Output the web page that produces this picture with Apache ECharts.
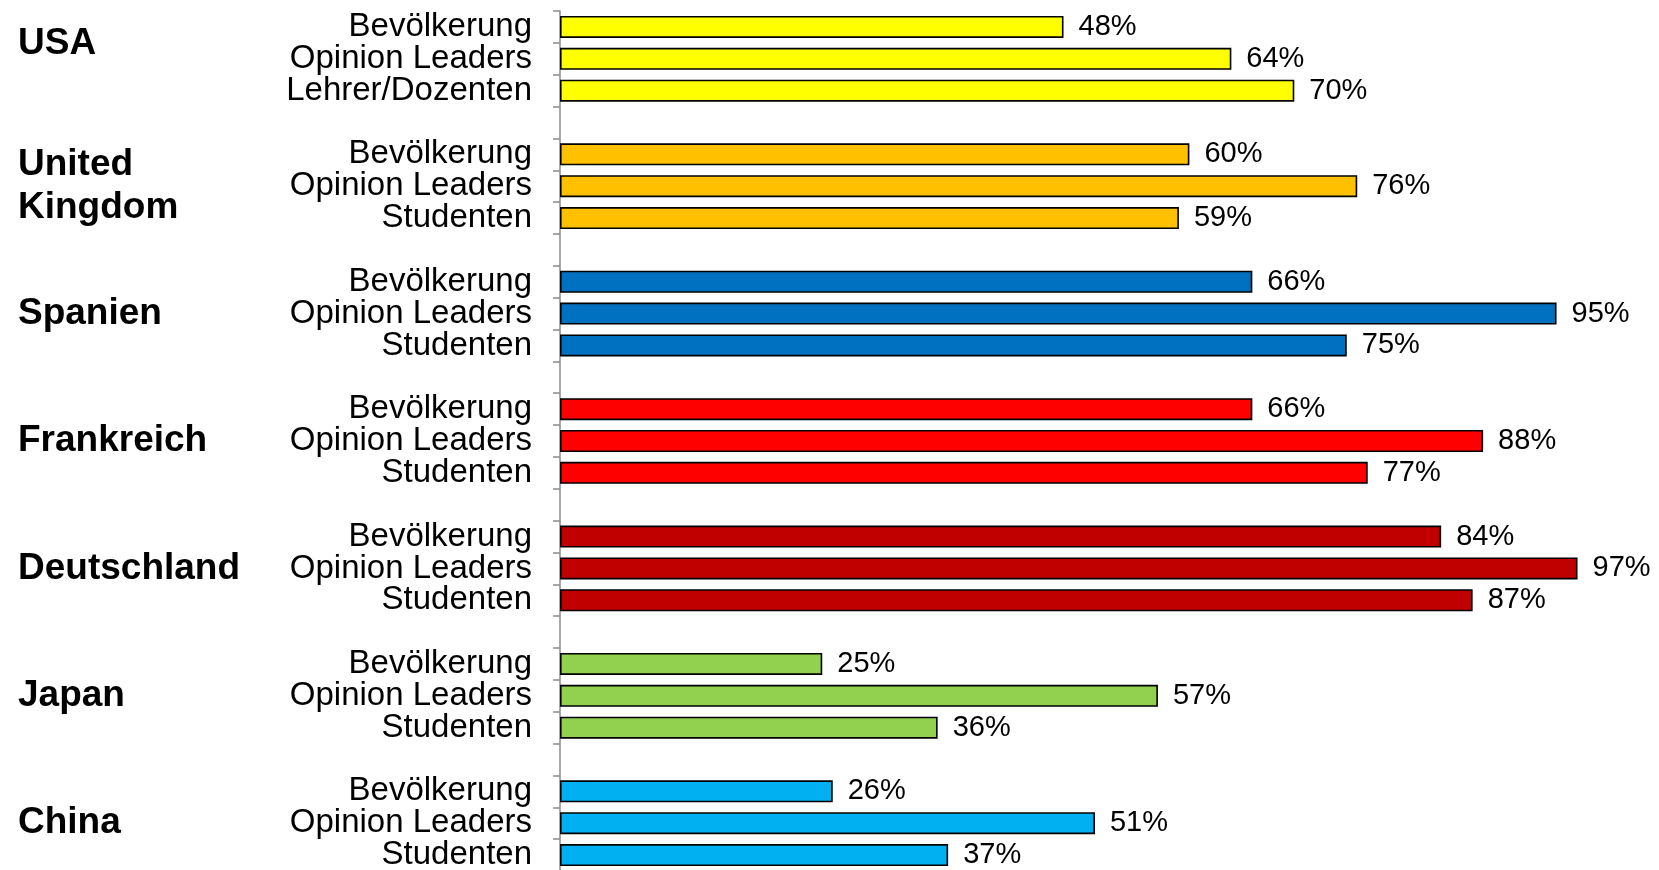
<!DOCTYPE html>
<html>
<head>
<meta charset="utf-8">
<script src="https://cdn.jsdelivr.net/npm/echarts@6/dist/echarts.min.js"></script>
<style>
  html, body { margin: 0; padding: 0; background: #fff; }
  #chart { width: 1659px; height: 870px; }
</style>
</head>
<body>
<div id="chart"></div>
<script>
// Länder und Gruppen (von oben nach unten)
var countries = ['USA', 'United\nKingdom', 'Spanien', 'Frankreich', 'Deutschland', 'Japan', 'China'];
var groupLabels = [
  ['Bevölkerung', 'Opinion Leaders', 'Lehrer/Dozenten'],
  ['Bevölkerung', 'Opinion Leaders', 'Studenten'],
  ['Bevölkerung', 'Opinion Leaders', 'Studenten'],
  ['Bevölkerung', 'Opinion Leaders', 'Studenten'],
  ['Bevölkerung', 'Opinion Leaders', 'Studenten'],
  ['Bevölkerung', 'Opinion Leaders', 'Studenten'],
  ['Bevölkerung', 'Opinion Leaders', 'Studenten']
];
var usa = [48, 64, 70];
var uk = [60, 76, 59];
var spanien = [66, 95, 75];
var frankreich = [66, 88, 77];
var deutschland = [84, 97, 87];
var japan = [25, 57, 36];
var china = [26, 51, 37];
var colors = ['#FFFF00', '#FFC000', '#0070C0', '#FF0000', '#C00000', '#92D050', '#00B0F0'];

var groups = [usa, uk, spanien, frankreich, deutschland, japan, china];

// flache Listen bauen: 3 Balken je Land, dazwischen eine Leerzeile
var cats = [], countryCats = [], barData = [];
groups.forEach(function (vals, g) {
  vals.forEach(function (v, i) {
    cats.push(groupLabels[g][i]);
    countryCats.push(i === 1 ? countries[g] : '');
    barData.push({ value: v, itemStyle: { color: colors[g] } });
  });
  if (g < groups.length - 1) {
    cats.push('');
    countryCats.push('');
    barData.push('-');
  }
});

var countryFont = {
  fontFamily: 'Liberation Sans, Arial, sans-serif',
  fontSize: 37,
  fontWeight: 'bold',
  lineHeight: 43,
  color: '#000'
};

var chart = echarts.init(document.getElementById('chart'));
chart.setOption({
  animation: false,
  grid: { left: 560, right: 50, top: 11, height: 860, containLabel: false, outerBoundsMode: 'none' },
  xAxis: { type: 'value', min: 0, max: 100, show: false },
  yAxis: [{
    type: 'category',
    inverse: true,
    data: cats,
    axisLine: { show: true, lineStyle: { color: '#8c8c8c', width: 1.5 } },
    axisTick: { show: true, length: 7, lineStyle: { color: '#8c8c8c', width: 1.5 } },
    axisLabel: {
      interval: 0,
      margin: 28,
      fontFamily: 'Liberation Sans, Arial, sans-serif',
      fontSize: 33,
      color: '#000'
    }
  }, {
    type: 'category',
    inverse: true,
    position: 'left',
    data: countryCats,
    axisLine: { show: false },
    axisTick: { show: false },
    axisLabel: Object.assign({
      interval: 0,
      margin: 542,
      align: 'left',
      // USA steht im Original etwas höher als die Gruppenmitte
      formatter: function (v) {
        if (v === 'USA') return '{up|' + v + '}';
        return v;
      },
      rich: {
        up: Object.assign({ padding: [0, 0, 30, 0] }, countryFont)
      }
    }, countryFont)
  }],
  series: [{
    type: 'bar',
    data: barData,
    barWidth: 22,
    itemStyle: { borderColor: '#000', borderWidth: 1.6 },
    label: {
      show: true,
      position: 'right',
      distance: 15,
      formatter: '{c}%',
      fontFamily: 'Liberation Sans, Arial, sans-serif',
      fontSize: 29,
      color: '#000'
    }
  }]
});
</script>
</body>
</html>
